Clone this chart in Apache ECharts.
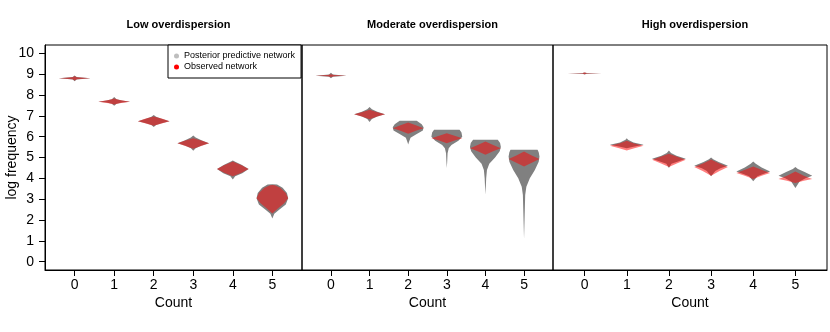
<!DOCTYPE html>
<html>
<head>
<meta charset="utf-8">
<script src="https://cdn.jsdelivr.net/npm/echarts@6/dist/echarts.min.js"></script>
<style>
  html, body { margin: 0; padding: 0; background: #fff; }
  #main { width: 830px; height: 332px; }
</style>
</head>
<body>
<div id="main"></div>
<script>
// counts on the x axis and the log frequency ticks
var counts = [0, 1, 2, 3, 4, 5];
var yTicks = [0, 1, 2, 3, 4, 5, 6, 7, 8, 9, 10];
var panelTitles = ['Low overdispersion', 'Moderate overdispersion', 'High overdispersion'];

// violin outlines: for every count a list of [log frequency, half width], bottom to top
var lowGrey = [
  [[8.66,0],[8.74,0.05],[8.80,0.4],[8.86,0.05],[8.94,0]],
  [[7.48,0],[7.58,0.06],[7.64,0.2],[7.68,0.4],[7.74,0.2],[7.80,0.06],[7.90,0]],
  [[6.46,0],[6.56,0.06],[6.64,0.2],[6.74,0.4],[6.86,0.2],[6.96,0.06],[7.04,0]],
  [[5.33,0],[5.44,0.06],[5.56,0.2],[5.69,0.4],[5.82,0.22],[5.96,0.06],[6.06,0]],
  [[3.94,0],[4.10,0.06],[4.25,0.24],[4.45,0.4],[4.65,0.22],[4.80,0.06],[4.86,0]],
  [[2.07,0],[2.30,0.05],[2.50,0.18],[2.75,0.34],[3.05,0.4],[3.30,0.37],[3.55,0.26],[3.70,0.12],[3.72,0]]
];
var lowRed = [
  [[8.70,0],[8.76,0.06],[8.80,0.4],[8.85,0.06],[8.90,0]],
  [[7.54,0],[7.61,0.14],[7.68,0.4],[7.76,0.14],[7.83,0]],
  [[6.52,0],[6.63,0.2],[6.74,0.4],[6.86,0.22],[6.97,0]],
  [[5.42,0],[5.55,0.2],[5.69,0.4],[5.82,0.2],[5.93,0]],
  [[4.10,0],[4.27,0.22],[4.45,0.4],[4.63,0.22],[4.81,0]],
  [[2.31,0],[2.55,0.14],[2.80,0.3],[3.05,0.4],[3.30,0.34],[3.55,0.2],[3.67,0.06],[3.68,0]]
];
var modGrey = [
  [[8.80,0],[8.88,0.05],[8.93,0.4],[8.98,0.05],[9.07,0]],
  [[6.70,0],[6.85,0.06],[6.97,0.2],[7.08,0.4],[7.20,0.2],[7.32,0.06],[7.42,0]],
  [[5.63,0],[5.75,0.02],[5.95,0.06],[6.10,0.2],[6.30,0.38],[6.45,0.4],[6.60,0.35],[6.76,0.22],[6.76,0]],
  [[4.50,0],[4.80,0.01],[5.20,0.02],[5.45,0.05],[5.60,0.12],[5.80,0.3],[6.00,0.4],[6.20,0.38],[6.33,0.33],[6.33,0]],
  [[3.22,0],[3.60,0.01],[4.00,0.02],[4.40,0.04],[4.70,0.1],[5.00,0.25],[5.30,0.37],[5.50,0.4],[5.70,0.38],[5.85,0.32],[5.85,0]],
  [[1.10,0],[1.80,0.01],[2.50,0.02],[3.20,0.03],[3.60,0.06],[4.00,0.15],[4.40,0.28],[4.80,0.38],[5.05,0.4],[5.25,0.38],[5.37,0.35],[5.37,0]]
];
var modRed = [
  [[8.86,0],[8.90,0.08],[8.93,0.4],[8.96,0.08],[9.00,0]],
  [[6.84,0],[6.96,0.18],[7.08,0.4],[7.18,0.18],[7.29,0]],
  [[6.14,0],[6.28,0.2],[6.41,0.4],[6.55,0.2],[6.68,0]],
  [[5.69,0],[5.82,0.2],[5.93,0.4],[6.05,0.2],[6.17,0]],
  [[5.13,0],[5.30,0.2],[5.45,0.4],[5.60,0.2],[5.77,0]],
  [[4.57,0],[4.75,0.2],[4.93,0.4],[5.10,0.2],[5.29,0]]
];
var highGrey = [
  [[8.98,0],[9.02,0.05],[9.04,0.4],[9.06,0.05],[9.08,0]],
  [[5.45,0],[5.52,0.16],[5.61,0.4],[5.72,0.16],[5.85,0.03],[5.93,0]],
  [[4.50,0],[4.70,0.06],[4.80,0.2],[4.94,0.4],[5.08,0.18],[5.22,0.05],[5.34,0]],
  [[4.10,0],[4.35,0.1],[4.48,0.22],[4.61,0.4],[4.78,0.18],[4.92,0.05],[5.00,0]],
  [[3.86,0],[4.10,0.1],[4.20,0.22],[4.33,0.4],[4.52,0.2],[4.70,0.06],[4.81,0]],
  [[3.54,0],[3.85,0.1],[4.00,0.24],[4.13,0.4],[4.30,0.22],[4.45,0.06],[4.55,0]]
];
var highRed = [
  [[9.00,0],[9.03,0.05],[9.04,0.4],[9.06,0.05],[9.08,0]],
  [[5.34,0],[5.45,0.18],[5.56,0.4],[5.68,0.16],[5.80,0]],
  [[4.55,0],[4.72,0.2],[4.89,0.4],[5.05,0.18],[5.18,0]],
  [[4.13,0],[4.35,0.2],[4.55,0.4],[4.72,0.18],[4.90,0]],
  [[3.97,0],[4.12,0.2],[4.26,0.4],[4.42,0.18],[4.57,0]],
  [[3.78,0],[3.88,0.2],[3.97,0.4],[4.12,0.2],[4.33,0]]
];

var chart = echarts.init(document.getElementById('main'), null, { renderer: 'canvas' });
var font = 'Liberation Sans, Arial, Helvetica, sans-serif';

function violin(profiles) {
  return function (params, api) {
    var x = api.value(0);
    var prof = profiles[params.dataIndex];
    var right = [], left = [];
    prof.forEach(function (p) {
      right.push(api.coord([x + p[1], p[0]]));
      left.unshift(api.coord([x - p[1], p[0]]));
    });
    return {
      type: 'polygon',
      shape: { points: right.concat(left) },
      style: api.style({ stroke: null })
    };
  };
}

var grids = [
  { left: 45, top: 45, width: 257, height: 225 },
  { left: 302, top: 45, width: 251, height: 225 },
  { left: 553, top: 45, width: 274, height: 225 }
];
grids.forEach(function (g) { g.show = true; g.borderColor = '#000'; g.borderWidth = 1; g.backgroundColor = 'transparent'; });

var xAxes = grids.map(function (g, i) {
  return {
    type: 'value', gridIndex: i, min: -0.75, max: 5.75,
    name: 'Count', nameLocation: 'middle', nameGap: 26, nameMoveOverlap: false,
    nameTextStyle: { fontFamily: font, fontSize: 14, color: '#000' },
    splitLine: { show: false },
    axisLine: { show: true, onZero: false, lineStyle: { color: '#000', width: 1 } },
    axisTick: { show: true, length: 6, customValues: counts, lineStyle: { color: '#000' } },
    axisLabel: { customValues: counts, margin: 8, fontFamily: font, fontSize: 14, color: '#000' }
  };
});

var yAxes = grids.map(function (g, i) {
  return {
    type: 'value', gridIndex: i, min: -0.4, max: 10.4,
    show: i === 0,
    name: 'log frequency', nameLocation: 'middle', nameGap: 26, nameMoveOverlap: false,
    nameTextStyle: { fontFamily: font, fontSize: 14, color: '#000' },
    splitLine: { show: false },
    axisLine: { show: true, onZero: false, lineStyle: { color: '#000', width: 1 } },
    axisTick: { show: true, length: 6, customValues: yTicks, lineStyle: { color: '#000' } },
    axisLabel: { customValues: yTicks, margin: 11, fontFamily: font, fontSize: 14, color: '#000' }
  };
});

var panels = [[lowGrey, lowRed], [modGrey, modRed], [highGrey, highRed]];
var series = [];
panels.forEach(function (p, i) {
  series.push({
    type: 'custom', name: 'Posterior predictive network',
    xAxisIndex: i, yAxisIndex: i, clip: true,
    itemStyle: { color: '#808080' },
    renderItem: violin(p[0]),
    data: counts.map(function (c) { return [c, 0]; })
  });
  series.push({
    type: 'custom', name: 'Observed network',
    xAxisIndex: i, yAxisIndex: i, clip: true,
    itemStyle: { color: 'rgba(255,0,0,0.5)' },
    renderItem: violin(p[1]),
    data: counts.map(function (c) { return [c, 0]; })
  });
});

var option = {
  animation: false,
  backgroundColor: '#fff',
  title: panelTitles.map(function (t, i) {
    return {
      text: t, left: grids[i].left + grids[i].width / 2, top: 14, textAlign: 'center',
      textStyle: { fontFamily: font, fontSize: 11, fontWeight: 'bold', color: '#000' }
    };
  }),
  legend: {
    orient: 'vertical', left: 168, top: 45,
    padding: [6, 6, 6, 6], itemGap: 1, itemWidth: 5, itemHeight: 5,
    icon: 'circle', borderColor: '#000', borderWidth: 1, backgroundColor: '#fff',
    selectedMode: false,
    textStyle: { fontFamily: font, fontSize: 9, color: '#000', lineHeight: 10 },
    data: [
      { name: 'Posterior predictive network', itemStyle: { color: '#bebebe' } },
      { name: 'Observed network', itemStyle: { color: '#ff0000' } }
    ]
  },
  grid: grids,
  xAxis: xAxes,
  yAxis: yAxes,
  series: series
};

option && chart.setOption(option);
</script>
</body>
</html>
